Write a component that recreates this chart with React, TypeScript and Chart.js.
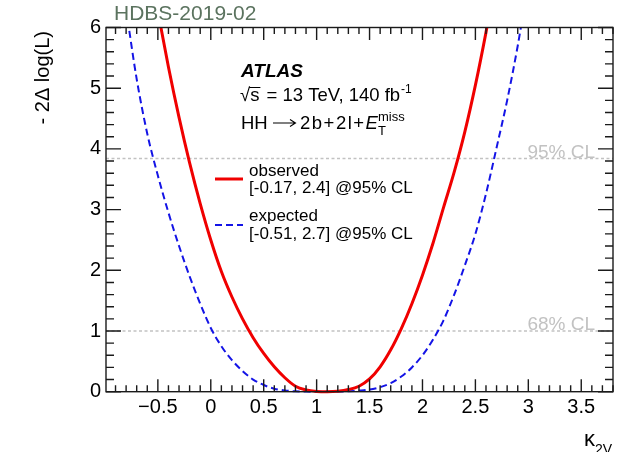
import React, { useEffect, useRef } from 'react';
import { Chart, registerables } from 'chart.js';

Chart.register(...registerables);

// ---- data ----
const kappaObs = [-0.5, -0.4, -0.3, -0.2, -0.1, 0, 0.1, 0.2, 0.3, 0.4, 0.5, 0.6, 0.7, 0.8, 0.9, 1.0, 1.1, 1.2, 1.3, 1.4, 1.5, 1.6, 1.7, 1.8, 1.9, 2.0, 2.1, 2.2, 2.3, 2.4, 2.5, 2.6, 2.65];
const dnllObs = [6.27, 5.35, 4.52, 3.77, 3.1, 2.5, 1.98, 1.56, 1.2, 0.89, 0.63, 0.41, 0.23, 0.09, 0.03, 0.005, 0.0, 0.008, 0.035, 0.09, 0.21, 0.41, 0.69, 1.04, 1.45, 1.92, 2.45, 3.04, 3.62, 4.28, 5.05, 5.92, 6.4];

const kappaExp = [-0.8, -0.7, -0.6, -0.5, -0.4, -0.3, -0.2, -0.1, 0, 0.1, 0.2, 0.3, 0.4, 0.5, 0.6, 0.7, 0.8, 0.9, 1.0, 1.1, 1.2, 1.3, 1.4, 1.5, 1.6, 1.7, 1.8, 1.9, 2.0, 2.1, 2.2, 2.3, 2.4, 2.5, 2.6, 2.7, 2.8, 2.9, 3.0];
const dnllExp = [6.3, 5.15, 4.25, 3.56, 2.95, 2.4, 1.9, 1.45, 1.05, 0.75, 0.52, 0.34, 0.2, 0.11, 0.05, 0.02, 0.007, 0.002, 0.0, 0.0, 0.002, 0.008, 0.018, 0.035, 0.075, 0.14, 0.25, 0.4, 0.6, 0.86, 1.18, 1.6, 2.08, 2.6, 3.26, 4.02, 4.8, 5.7, 6.75];

const clLevels = [3.84, 1];
const clLabels = ['95% CL', '68% CL'];

const xTickValues = [-0.5, 0, 0.5, 1, 1.5, 2, 2.5, 3, 3.5];
const yTickValues = [0, 1, 2, 3, 4, 5, 6];
const xRange = [-0.99, 3.8];
const yRange = [0, 6];

const legendLabels = ['observed', 'expected'];
const legendIntervals = ['[-0.17, 2.4] @95% CL', '[-0.51, 2.7] @95% CL'];

const FONT = '"Liberation Sans", Arial, sans-serif';
const RED = '#f00000';
const BLUE = '#1414e6';
const GRAY = '#c2c2c2';

const decorPlugin = {
  id: 'decor',
  afterDraw(chart: any) {
    const { ctx, chartArea: a, scales } = chart;
    const x = scales.x;
    const y = scales.y;
    ctx.save();

    // CL labels
    ctx.fillStyle = GRAY;
    ctx.font = `19px ${FONT}`;
    ctx.textAlign = 'right';
    ctx.textBaseline = 'alphabetic';
    clLevels.forEach((lv, i) => {
      ctx.fillText(clLabels[i], a.right - 18, y.getPixelForValue(lv) - 1);
    });

    // frame and ticks
    ctx.strokeStyle = '#1a1a1a';
    ctx.lineWidth = 1.4;
    ctx.strokeRect(a.left, a.top, a.right - a.left, a.bottom - a.top);
    ctx.beginPath();
    for (let i = Math.ceil(xRange[0] * 10); i <= Math.floor(xRange[1] * 10); i++) {
      const px = x.getPixelForValue(i / 10);
      const len = i % 5 === 0 ? 12.5 : 6.5;
      ctx.moveTo(px, a.bottom);
      ctx.lineTo(px, a.bottom - len);
      ctx.moveTo(px, a.top);
      ctx.lineTo(px, a.top + len);
    }
    for (let i = Math.round(yRange[0] * 5); i <= Math.round(yRange[1] * 5); i++) {
      const py = y.getPixelForValue(i / 5);
      const len = i % 5 === 0 ? 15 : 8;
      ctx.moveTo(a.left, py);
      ctx.lineTo(a.left + len, py);
      ctx.moveTo(a.right, py);
      ctx.lineTo(a.right - len, py);
    }
    ctx.stroke();

    // top-left tag
    ctx.textAlign = 'left';
    ctx.fillStyle = '#5b735f';
    ctx.font = `21px ${FONT}`;
    ctx.fillText('HDBS-2019-02', 114, 20);

    // ATLAS block
    ctx.fillStyle = '#000';
    ctx.strokeStyle = '#000';
    ctx.font = `italic bold 19px ${FONT}`;
    ctx.fillText('ATLAS', 241, 77);

    ctx.font = `18.5px ${FONT}`;
    let cx = 240;
    ctx.fillText('\u221A', cx, 101);
    cx += ctx.measureText('\u221A').width;
    const sW = ctx.measureText('s').width;
    ctx.fillText('s', cx, 101);
    ctx.beginPath();
    ctx.lineWidth = 1;
    ctx.moveTo(cx - 1, 87.5);
    ctx.lineTo(cx + sW + 1, 87.5);
    ctx.stroke();
    cx += sW + 2;
    const t2 = ' = 13 TeV, 140 fb';
    ctx.fillText(t2, cx, 101);
    cx += ctx.measureText(t2).width;
    ctx.font = `12px ${FONT}`;
    ctx.fillText('-1', cx + 1, 93);

    // HH -> 2b+2l+E_T^miss
    ctx.font = `18.5px ${FONT}`;
    ctx.fillText('HH', 241, 129);
    ctx.beginPath();
    ctx.lineWidth = 1.1;
    ctx.moveTo(273, 123);
    ctx.lineTo(295, 123);
    ctx.moveTo(290, 119.5);
    ctx.lineTo(295.5, 123);
    ctx.lineTo(290, 126.5);
    ctx.stroke();
    cx = 300;
    (ctx as any).letterSpacing = '1.5px';
    ctx.fillText('2b+2l+', cx, 129);
    cx += ctx.measureText('2b+2l+').width;
    (ctx as any).letterSpacing = '0px';
    ctx.font = `italic 18.5px ${FONT}`;
    ctx.fillText('E', cx, 129);
    cx += ctx.measureText('E').width;
    ctx.font = `13px ${FONT}`;
    ctx.fillText('miss', cx, 121);
    ctx.fillText('T', cx, 135);

    // legend
    const entries = [
      { color: RED, dash: [] as number[], width: 3, lineY: 179, y1: 176, y2: 193 },
      { color: BLUE, dash: [7, 4], width: 2, lineY: 225, y1: 221, y2: 239 },
    ];
    entries.forEach((e, i) => {
      ctx.beginPath();
      ctx.strokeStyle = e.color;
      ctx.lineWidth = e.width;
      ctx.setLineDash(e.dash);
      ctx.moveTo(215, e.lineY);
      ctx.lineTo(243, e.lineY);
      ctx.stroke();
      ctx.setLineDash([]);
      ctx.fillStyle = '#000';
      ctx.font = `17px ${FONT}`;
      ctx.fillText(legendLabels[i], 249, e.y1);
      ctx.fillText(legendIntervals[i], 249, e.y2);
    });

    // y title
    ctx.save();
    ctx.translate(43, 31);
    ctx.rotate(-Math.PI / 2);
    ctx.font = `20px ${FONT}`;
    ctx.textAlign = 'right';
    ctx.textBaseline = 'middle';
    ctx.fillText('- 2\u0394 log(L)', 0, 0);
    ctx.restore();

    // x title
    ctx.font = `22px ${FONT}`;
    ctx.textAlign = 'left';
    ctx.fillText('\u03BA', 584, 446);
    const kW = ctx.measureText('\u03BA').width;
    ctx.font = `14px ${FONT}`;
    ctx.fillText('2V', 584 + kW, 454);

    ctx.restore();
  },
};

export default function App() {
  const ref = useRef<HTMLCanvasElement>(null);
  useEffect(() => {
    if (!ref.current) return;
    const chart = new Chart(ref.current, {
      type: 'line',
      data: {
        datasets: [
          {
            label: 'observed',
            data: kappaObs.map((k, i) => ({ x: k, y: dnllObs[i] })),
            borderColor: RED,
            borderWidth: 3,
            pointRadius: 0,
            cubicInterpolationMode: 'monotone',
            fill: false,
            order: 0,
            clip: { left: 0, right: 0, top: 0, bottom: 3 },
          },
          {
            label: 'expected',
            data: kappaExp.map((k, i) => ({ x: k, y: dnllExp[i] })),
            borderColor: BLUE,
            borderWidth: 2,
            borderDash: [7, 4],
            pointRadius: 0,
            cubicInterpolationMode: 'monotone',
            fill: false,
            order: 1,
            clip: { left: 0, right: 0, top: 0, bottom: 3 },
          },
          ...clLevels.map((lv, i) => ({
            label: clLabels[i],
            data: [{ x: xRange[0], y: lv }, { x: xRange[1], y: lv }],
            borderColor: GRAY,
            borderWidth: 1.5,
            borderDash: [3, 2.5],
            pointRadius: 0,
            fill: false,
            order: 2,
          })),
        ] as any,
      },
      options: {
        animation: false,
        responsive: false,
        devicePixelRatio: 1,
        layout: { padding: { top: 27.5, right: 16, left: 0, bottom: 0 } },
        plugins: { legend: { display: false }, tooltip: { enabled: false } },
        scales: {
          x: {
            type: 'linear',
            min: xRange[0],
            max: xRange[1],
            grid: { display: false, drawTicks: false },
            border: { display: false },
            afterBuildTicks: (s: any) => {
              s.ticks = xTickValues.map((v) => ({ value: v }));
            },
            afterFit: (s: any) => {
              s.height = 60.3;
            },
            ticks: {
              autoSkip: false,
              maxRotation: 0,
              padding: 4,
              color: '#000',
              font: { family: FONT, size: 20 },
              callback: (v: any) => (v < 0 ? '\u2212' + Math.abs(v) : String(v)),
            },
          },
          y: {
            type: 'linear',
            min: yRange[0],
            max: yRange[1],
            grid: { display: false, drawTicks: false },
            border: { display: false },
            afterBuildTicks: (s: any) => {
              s.ticks = yTickValues.map((v) => ({ value: v }));
            },
            afterFit: (s: any) => {
              s.width = 106;
            },
            ticks: {
              autoSkip: false,
              padding: 5,
              color: '#000',
              font: { family: FONT, size: 20 },
              callback: (v: any) => String(v),
            },
          },
        },
      },
      plugins: [decorPlugin],
    } as any);
    return () => chart.destroy();
  }, []);
  return (
    <div style={{ position: 'absolute', left: 0, top: 0, width: 629, height: 452, background: '#fff' }}>
      <canvas ref={ref} width={629} height={452} />
    </div>
  );
}
